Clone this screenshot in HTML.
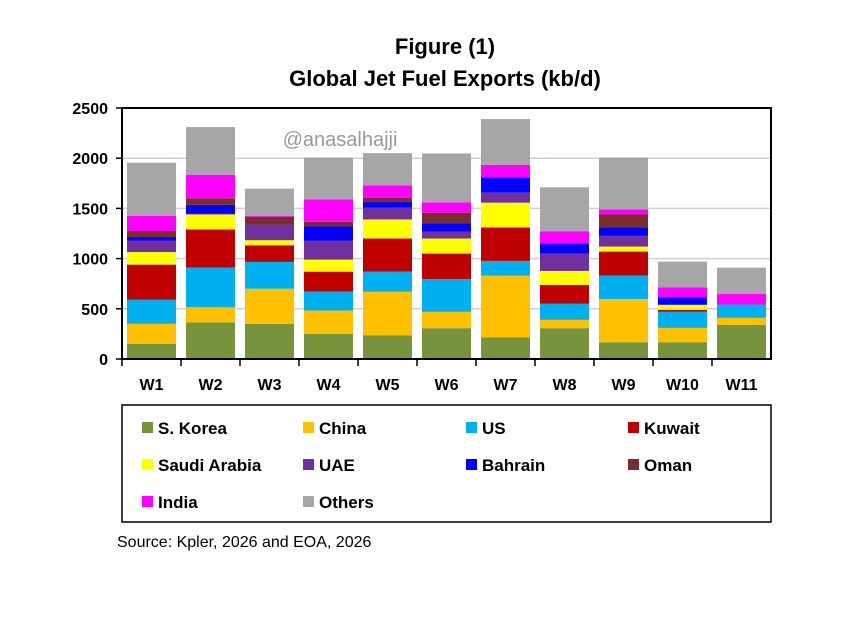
<!DOCTYPE html>
<html><head><meta charset="utf-8"><style>
body{margin:0;background:#fff;font-family:"Liberation Sans",sans-serif}
svg text{font-family:"Liberation Sans",sans-serif}
</style></head><body>
<svg width="861" height="618" xmlns="http://www.w3.org/2000/svg">
<text x="445" y="54" text-anchor="middle" font-size="22" font-weight="bold">Figure (1)</text>
<text x="445" y="86" text-anchor="middle" font-size="22" font-weight="bold">Global Jet Fuel Exports (kb/d)</text>
<g id="grid"></g>
<g id="bars"></g>
<text x="340" y="146" text-anchor="middle" font-size="20" fill="#999">@anasalhajji</text>
<rect x="122" y="108" width="649" height="251" fill="none" stroke="#000" stroke-width="2"/>
<g id="axes"></g>
<rect x="122" y="405" width="649" height="117" fill="none" stroke="#000" stroke-width="1.5"/>
<g id="legend"></g>
<text x="117" y="547" font-size="16">Source: Kpler, 2026 and EOA, 2026</text>
</svg>
<script>
const categories=["W1","W2","W3","W4","W5","W6","W7","W8","W9","W10","W11"];
const seriesNames=["S. Korea","China","US","Kuwait","Saudi Arabia","UAE","Bahrain","Oman","India","Others"];
const seriesColors=["#77933c","#ffc000","#00b0f0","#c00000","#ffff00","#7030a0","#0000ff","#7b2c2c","#ff00ff","#a6a6a6"];
const sKorea=[150,365,350,250,237,307,217,307,167,167,340];
const china=[200,150,350,233,433,163,613,83,430,143,70];
const us=[240,395,267,187,200,327,147,160,233,160,133];
const kuwait=[350,380,166,200,330,253,333,187,240,20,0];
const saudi=[125,150,50,120,190,150,247,140,50,50,0];
const uae=[115,5,157,190,117,67,100,173,110,0,0];
const bahrain=[35,90,0,140,56,83,153,100,83,77,0];
const oman=[60,65,77,47,44,107,0,0,127,0,0];
const india=[150,235,10,223,123,103,123,120,50,96,104];
const others=[530,475,270,417,320,487,457,440,517,257,263];
const yTicks=[0,500,1000,1500,2000,2500];
const series=[sKorea,china,us,kuwait,saudi,uae,bahrain,oman,india,others];
const NS="http://www.w3.org/2000/svg";
const L=122,R=771,T=108,B=359,yMax=2500;
const bw=(R-L)/categories.length, barW=49;
const y=v=>B-(v/yMax)*(B-T);
const x=i=>L+i*bw+(bw-barW)/2;
function mk(t,a,p){const e=document.createElementNS(NS,t);for(const k in a)e.setAttribute(k,a[k]);p.appendChild(e);return e;}
const grid=document.getElementById('grid'),bars=document.getElementById('bars'),axes=document.getElementById('axes'),leg=document.getElementById('legend');
yTicks.forEach(t=>{
 if(t>0&&t<yMax){const g=mk('line',{x1:L,x2:R,y1:y(t),y2:y(t),stroke:'#d0d0d0','stroke-width':1.5},grid);
 
 }
 const tk=mk('line',{x1:L-6,x2:L,y1:y(t),y2:y(t),stroke:'#000','stroke-width':1.5},axes);
 
 
 const lb=mk('text',{x:L-14,y:y(t)+6,'text-anchor':'end','font-size':16,'font-weight':'bold'},axes);
 lb.textContent=t;
 
 
});
categories.forEach((c,i)=>{
 let cum=0;
 series.forEach((s,j)=>{
  const v=s[i]; if(v<=0)return;
  const r=mk('rect',{x:x(i),y:y(cum+v),width:barW,height:y(cum)-y(cum+v),fill:seriesColors[j]},bars);
  
  
  cum+=v;
 });
 const tk=mk('line',{x1:L+i*bw,x2:L+i*bw,y1:B,y2:B+7,stroke:'#000','stroke-width':1.5},axes);
 
 
 const lb=mk('text',{x:L+i*bw+bw/2,y:390,'text-anchor':'middle','font-size':16,'font-weight':'bold'},axes);
 lb.textContent=c;
 
 
});
const lx=[142,303,466,628],ly=[428,465,502];
seriesNames.forEach((n,j)=>{
 const cx=lx[j%4],cy=ly[Math.floor(j/4)];
 const g=mk('g',{},leg);
 
 
 mk('rect',{x:cx,y:cy-6,width:11,height:11,fill:seriesColors[j]},g);
 const t=mk('text',{x:cx+16,y:cy+6,'font-size':17,'font-weight':'bold'},g);
 t.textContent=n;
});
</script>
</body></html>
